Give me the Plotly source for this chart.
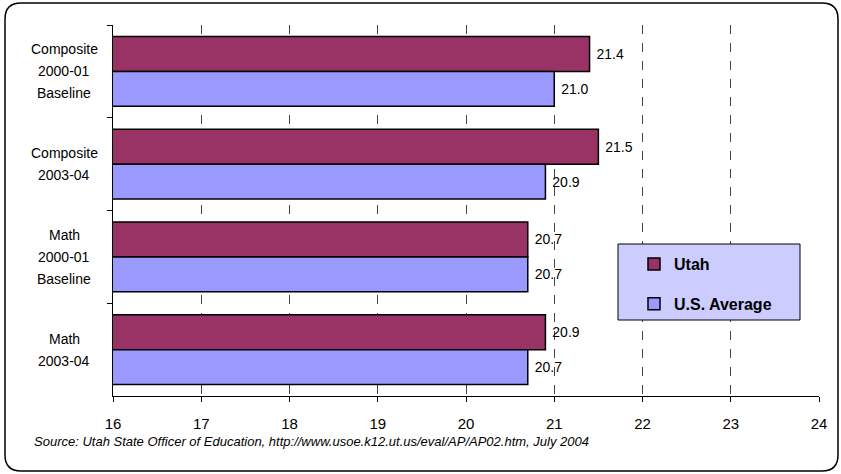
import plotly.graph_objects as go

# ACT scores: Utah vs. U.S. average
categories = ["Composite 2000-01 Baseline", "Composite 2003-04", "Math 2000-01 Baseline", "Math 2003-04"]
category_lines = [["Composite", "2000-01", "Baseline"], ["Composite", "2003-04"],
                  ["Math", "2000-01", "Baseline"], ["Math", "2003-04"]]
utah = [21.4, 21.5, 20.7, 20.9]
us_avg = [21.0, 20.9, 20.7, 20.7]
x_ticks = [16, 17, 18, 19, 20, 21, 22, 23, 24]

W, H = 841, 474
ML, MR, MT, MB = 113, 22, 25, 78
PW, PH = W - ML - MR, H - MT - MB


def px(x):
    return (x - ML) / PW


def py(y):
    return (H - MB - y) / PH


FONT = "Liberation Sans, Arial, sans-serif"

fig = go.Figure()
fig.add_trace(go.Bar(
    y=categories, x=utah, orientation="h", name="Utah", base=0,
    marker=dict(color="#993366", line=dict(color="black", width=1.5)),
    texttemplate="\u00a0%{x:.1f}", textposition="outside", cliponaxis=False,
    textfont=dict(family=FONT, size=14, color="black"), legendgroup="a",
))
fig.add_trace(go.Bar(
    y=categories, x=us_avg, orientation="h", name="U.S. Average", base=0,
    marker=dict(color="#9999FF", line=dict(color="black", width=1.5)),
    texttemplate="\u00a0%{x:.1f}", textposition="outside", cliponaxis=False,
    textfont=dict(family=FONT, size=14, color="black"), legendgroup="b",
))

# category labels, one annotation per line
annotations = []
for cat, lines in zip(categories, category_lines):
    n = len(lines)
    for j, line in enumerate(lines):
        annotations.append(dict(
            x=px(64), xref="paper", y=cat, yref="y", text=line, showarrow=False,
            xanchor="center", yanchor="middle", yshift=((n - 1) / 2 - j) * 22,
            font=dict(family=FONT, size=14, color="black"),
        ))

annotations.append(dict(
    x=px(32), y=py(441), xref="paper", yref="paper", showarrow=False,
    xanchor="left", yanchor="middle",
    text="<i>Source: Utah State Officer of Education, http://www.usoe.k12.ut.us/eval/AP/AP02.htm, July 2004</i>",
    font=dict(family=FONT, size=13, color="black"),
))


def rounded_rect(x0, y0, x1, y1, r):
    pts = [
        f"M {px(x0 + r)} {py(y0)}",
        f"L {px(x1 - r)} {py(y0)}",
        f"Q {px(x1)} {py(y0)} {px(x1)} {py(y0 + r)}",
        f"L {px(x1)} {py(y1 - r)}",
        f"Q {px(x1)} {py(y1)} {px(x1 - r)} {py(y1)}",
        f"L {px(x0 + r)} {py(y1)}",
        f"Q {px(x0)} {py(y1)} {px(x0)} {py(y1 - r)}",
        f"L {px(x0)} {py(y0 + r)}",
        f"Q {px(x0)} {py(y0)} {px(x0 + r)} {py(y0)} Z",
    ]
    return " ".join(pts)


shapes = [
    dict(type="path", xref="paper", yref="paper", path=rounded_rect(5, 3, 838, 471, 16),
         line=dict(color="black", width=1.5), layer="below"),
    dict(type="rect", xref="paper", yref="paper", x0=px(618), x1=px(800), y0=py(320), y1=py(244),
         fillcolor="#CCCCFF", line=dict(color="black", width=1), layer="above"),
]

fig.update_layout(
    width=W, height=H, margin=dict(l=ML, r=MR, t=MT, b=MB),
    paper_bgcolor="white", plot_bgcolor="white",
    barmode="group", bargap=0.25, bargroupgap=0,
    showlegend=True,
    legend=dict(x=px(634), y=py(247), xanchor="left", yanchor="top",
                bgcolor="rgba(0,0,0,0)", borderwidth=0, tracegroupgap=16,
                traceorder="grouped",
                font=dict(family=FONT, size=16, color="black", weight="bold")),
    xaxis=dict(range=[16, 24], tickvals=x_ticks, ticks="outside", ticklen=5,
               tickcolor="black", showline=True, linecolor="black", linewidth=1,
               showgrid=True, gridcolor="#444444", griddash="dash", gridwidth=1,
               zeroline=False, ticklabelstandoff=9,
               tickfont=dict(family=FONT, size=15, color="black")),
    yaxis=dict(autorange="reversed", showticklabels=False, ticks="outside",
               tickson="boundaries", ticklen=5, tickcolor="black",
               showline=True, linecolor="black", linewidth=1, showgrid=False),
    annotations=annotations, shapes=shapes,
)

fig.write_html("out.html")
